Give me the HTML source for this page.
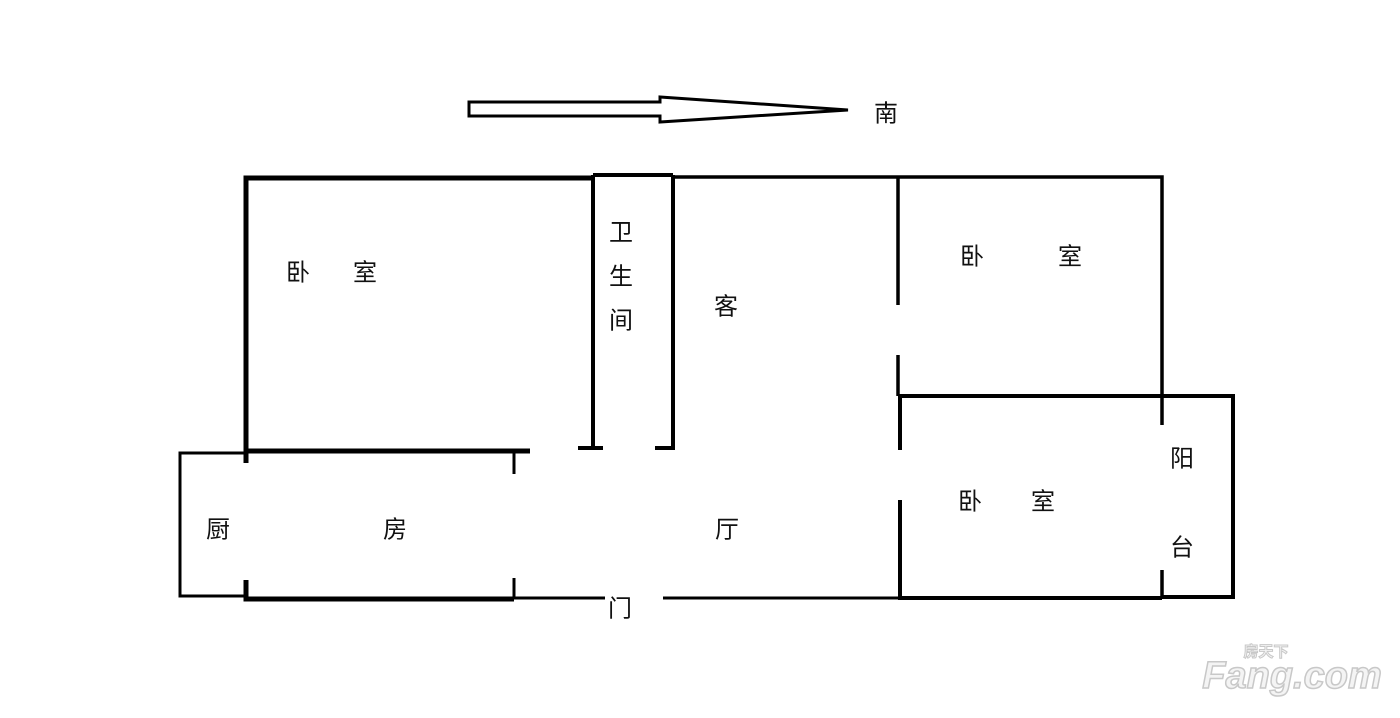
<!DOCTYPE html>
<html><head><meta charset="utf-8"><style>
body{margin:0;background:#fff;width:1400px;height:713px;overflow:hidden}
svg text{font-family:"Liberation Sans","Noto Sans CJK SC",sans-serif;font-size:24px;fill:#111;text-anchor:middle;dominant-baseline:central}
</style></head><body>
<svg width="1400" height="713" viewBox="0 0 1400 713">
<g stroke="#000" fill="none" stroke-linecap="butt">
<path d="M469,102 H660 V97 L848,110 L660,122 V116 H469 Z" stroke-width="3" fill="#fff"/>
<path d="M246,463 V178 H593" stroke-width="5"/>
<path d="M246,451 H530" stroke-width="5"/>
<path d="M593,175 H673" stroke-width="4"/>
<path d="M593,175 V448 M673,175 V448" stroke-width="4"/>
<path d="M578,448 H603 M655,448 H675" stroke-width="4"/>
<path d="M246,453 H180 V596 H246" stroke-width="3"/>
<path d="M246,580 V599 H514" stroke-width="5"/>
<path d="M514,452 V474 M514,578 V598" stroke-width="3"/>
<path d="M514,598 H605 M663,598 H898" stroke-width="3"/>
<path d="M673,177 H1162 V398" stroke-width="3.5"/>
<path d="M1162,398 V425 M1162,570 V598" stroke-width="3.5"/>
<path d="M898,177 V305 M898,355 V396" stroke-width="3.5"/>
<path d="M898,396 H1233 V597 H1162" stroke-width="4"/>
<path d="M900,396 V450 M900,500 V598 H1162" stroke-width="4"/>
</g>
<text x="298" y="273">卧</text><text x="365" y="273">室</text>
<text x="621" y="233">卫</text><text x="621" y="277">生</text><text x="621" y="321">间</text>
<text x="726" y="307">客</text>
<text x="972" y="257">卧</text><text x="1070" y="257">室</text>
<text x="970" y="502">卧</text><text x="1043" y="502">室</text>
<text x="1182" y="459">阳</text><text x="1182" y="548">台</text>
<text x="218" y="530">厨</text><text x="395" y="530">房</text>
<text x="727" y="530">厅</text>
<text x="620" y="609">门</text>
<text x="886" y="114">南</text>
<text x="1292" y="676" style="font-size:38px;font-weight:bold;font-style:italic;fill:#f4f4f4;stroke:#c8c8c8;stroke-width:1.5px">Fang.com</text>
<text x="1266" y="652" style="font-size:15px;font-weight:bold;fill:#f4f4f4;stroke:#c8c8c8;stroke-width:1px">房天下</text>
</svg>
</body></html>
